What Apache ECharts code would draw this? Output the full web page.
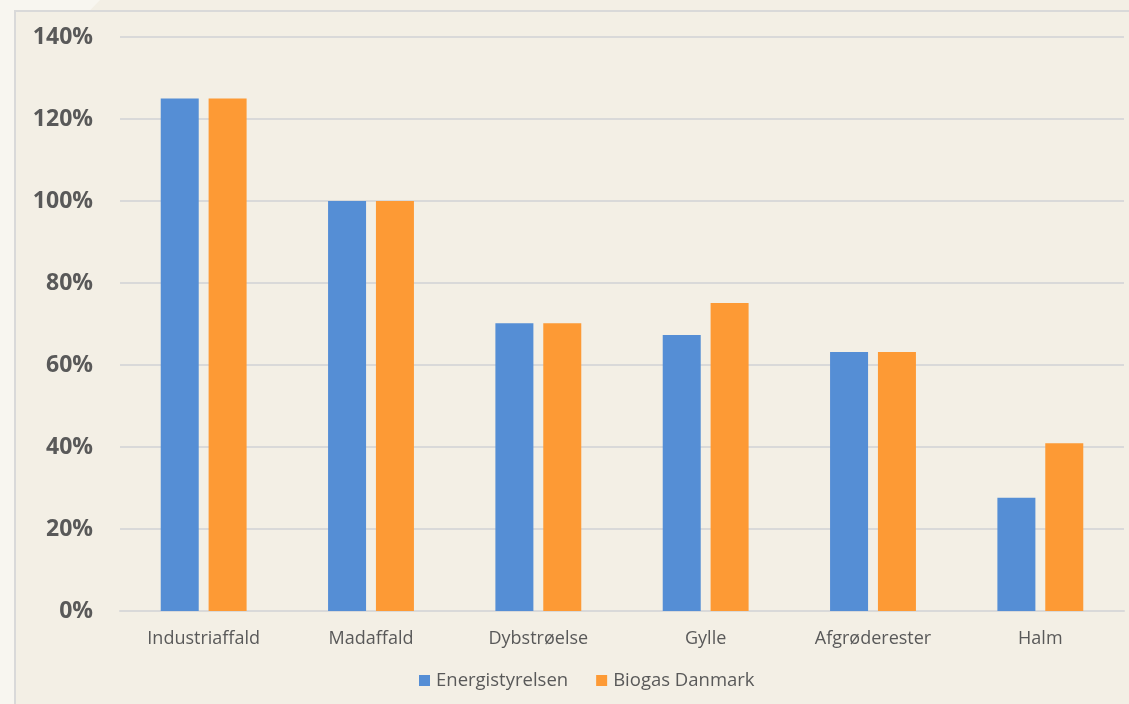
<!DOCTYPE html>
<html>
<head>
<meta charset="utf-8">
<script src="https://cdn.jsdelivr.net/npm/echarts@6/dist/echarts.min.js"></script>
<style>
  html, body { margin: 0; padding: 0; background: #f3efe5; }
  #chart { width: 1129px; height: 704px; }
</style>
</head>
<body>
<div id="chart"></div>
<script>
// Biomass types
const categories = ['Industriaffald', 'Madaffald', 'Dybstrøelse', 'Gylle', 'Afgrøderester', 'Halm'];
// Share per source (%)
const energistyrelsen = [125, 100, 70.2, 67.3, 63.2, 27.6];
const biogasDanmark = [125, 100, 70.2, 75.1, 63.2, 40.9];
const seriesNames = ['Energistyrelsen', 'Biogas Danmark'];

const chart = echarts.init(document.getElementById('chart'), null, { renderer: 'canvas' });

chart.setOption({
  backgroundColor: '#f3efe5',
  animation: false,
  graphic: [
    // lighter slide margin on the left
    { type: 'rect', z: -10, silent: true, shape: { x: 0, y: 0, width: 15, height: 704 }, style: { fill: '#f8f6f0' } },
    { type: 'polygon', z: -10, silent: true, shape: { points: [[0, 0], [100, 0], [0, 105]] }, style: { fill: '#f8f6f0' } },
    // chart frame
    { type: 'rect', z: -5, silent: true, shape: { x: 15, y: 11, width: 1130, height: 710 }, style: { fill: '#f3efe5', stroke: '#d9d9d9', lineWidth: 2 } }
  ],
  grid: { left: 120, right: 5, top: 37, bottom: 93, containLabel: false },
  legend: {
    data: seriesNames,
    bottom: 9,
    left: 414,
    itemWidth: 11,
    itemHeight: 11,
    itemGap: 28,
    icon: 'rect',
    textStyle: { color: '#595959', fontSize: 18.5, fontFamily: 'Open Sans', padding: [0, 0, 0, 1] }
  },
  xAxis: {
    type: 'category',
    data: categories,
    axisLine: { lineStyle: { color: '#d9d9d9', width: 2 } },
    axisTick: { show: false },
    axisLabel: { color: '#595959', fontSize: 18, fontFamily: 'Open Sans', margin: 19 }
  },
  yAxis: {
    type: 'value',
    min: 0,
    max: 140,
    interval: 20,
    axisLine: { show: false },
    axisTick: { show: false },
    splitLine: { lineStyle: { color: '#d9d9d9', width: 2 } },
    axisLabel: {
      formatter: '{value}%',
      color: '#595959',
      fontSize: 23,
      fontWeight: 'bold',
      fontFamily: 'Open Sans',
      margin: 27
    }
  },
  series: [
    {
      name: seriesNames[0],
      type: 'bar',
      data: energistyrelsen,
      barWidth: 38,
      barGap: '26%',
      itemStyle: { color: '#558ed5' }
    },
    {
      name: seriesNames[1],
      type: 'bar',
      data: biogasDanmark,
      barWidth: 38,
      itemStyle: { color: '#fd9a35' }
    }
  ]
});
</script>
</body>
</html>
